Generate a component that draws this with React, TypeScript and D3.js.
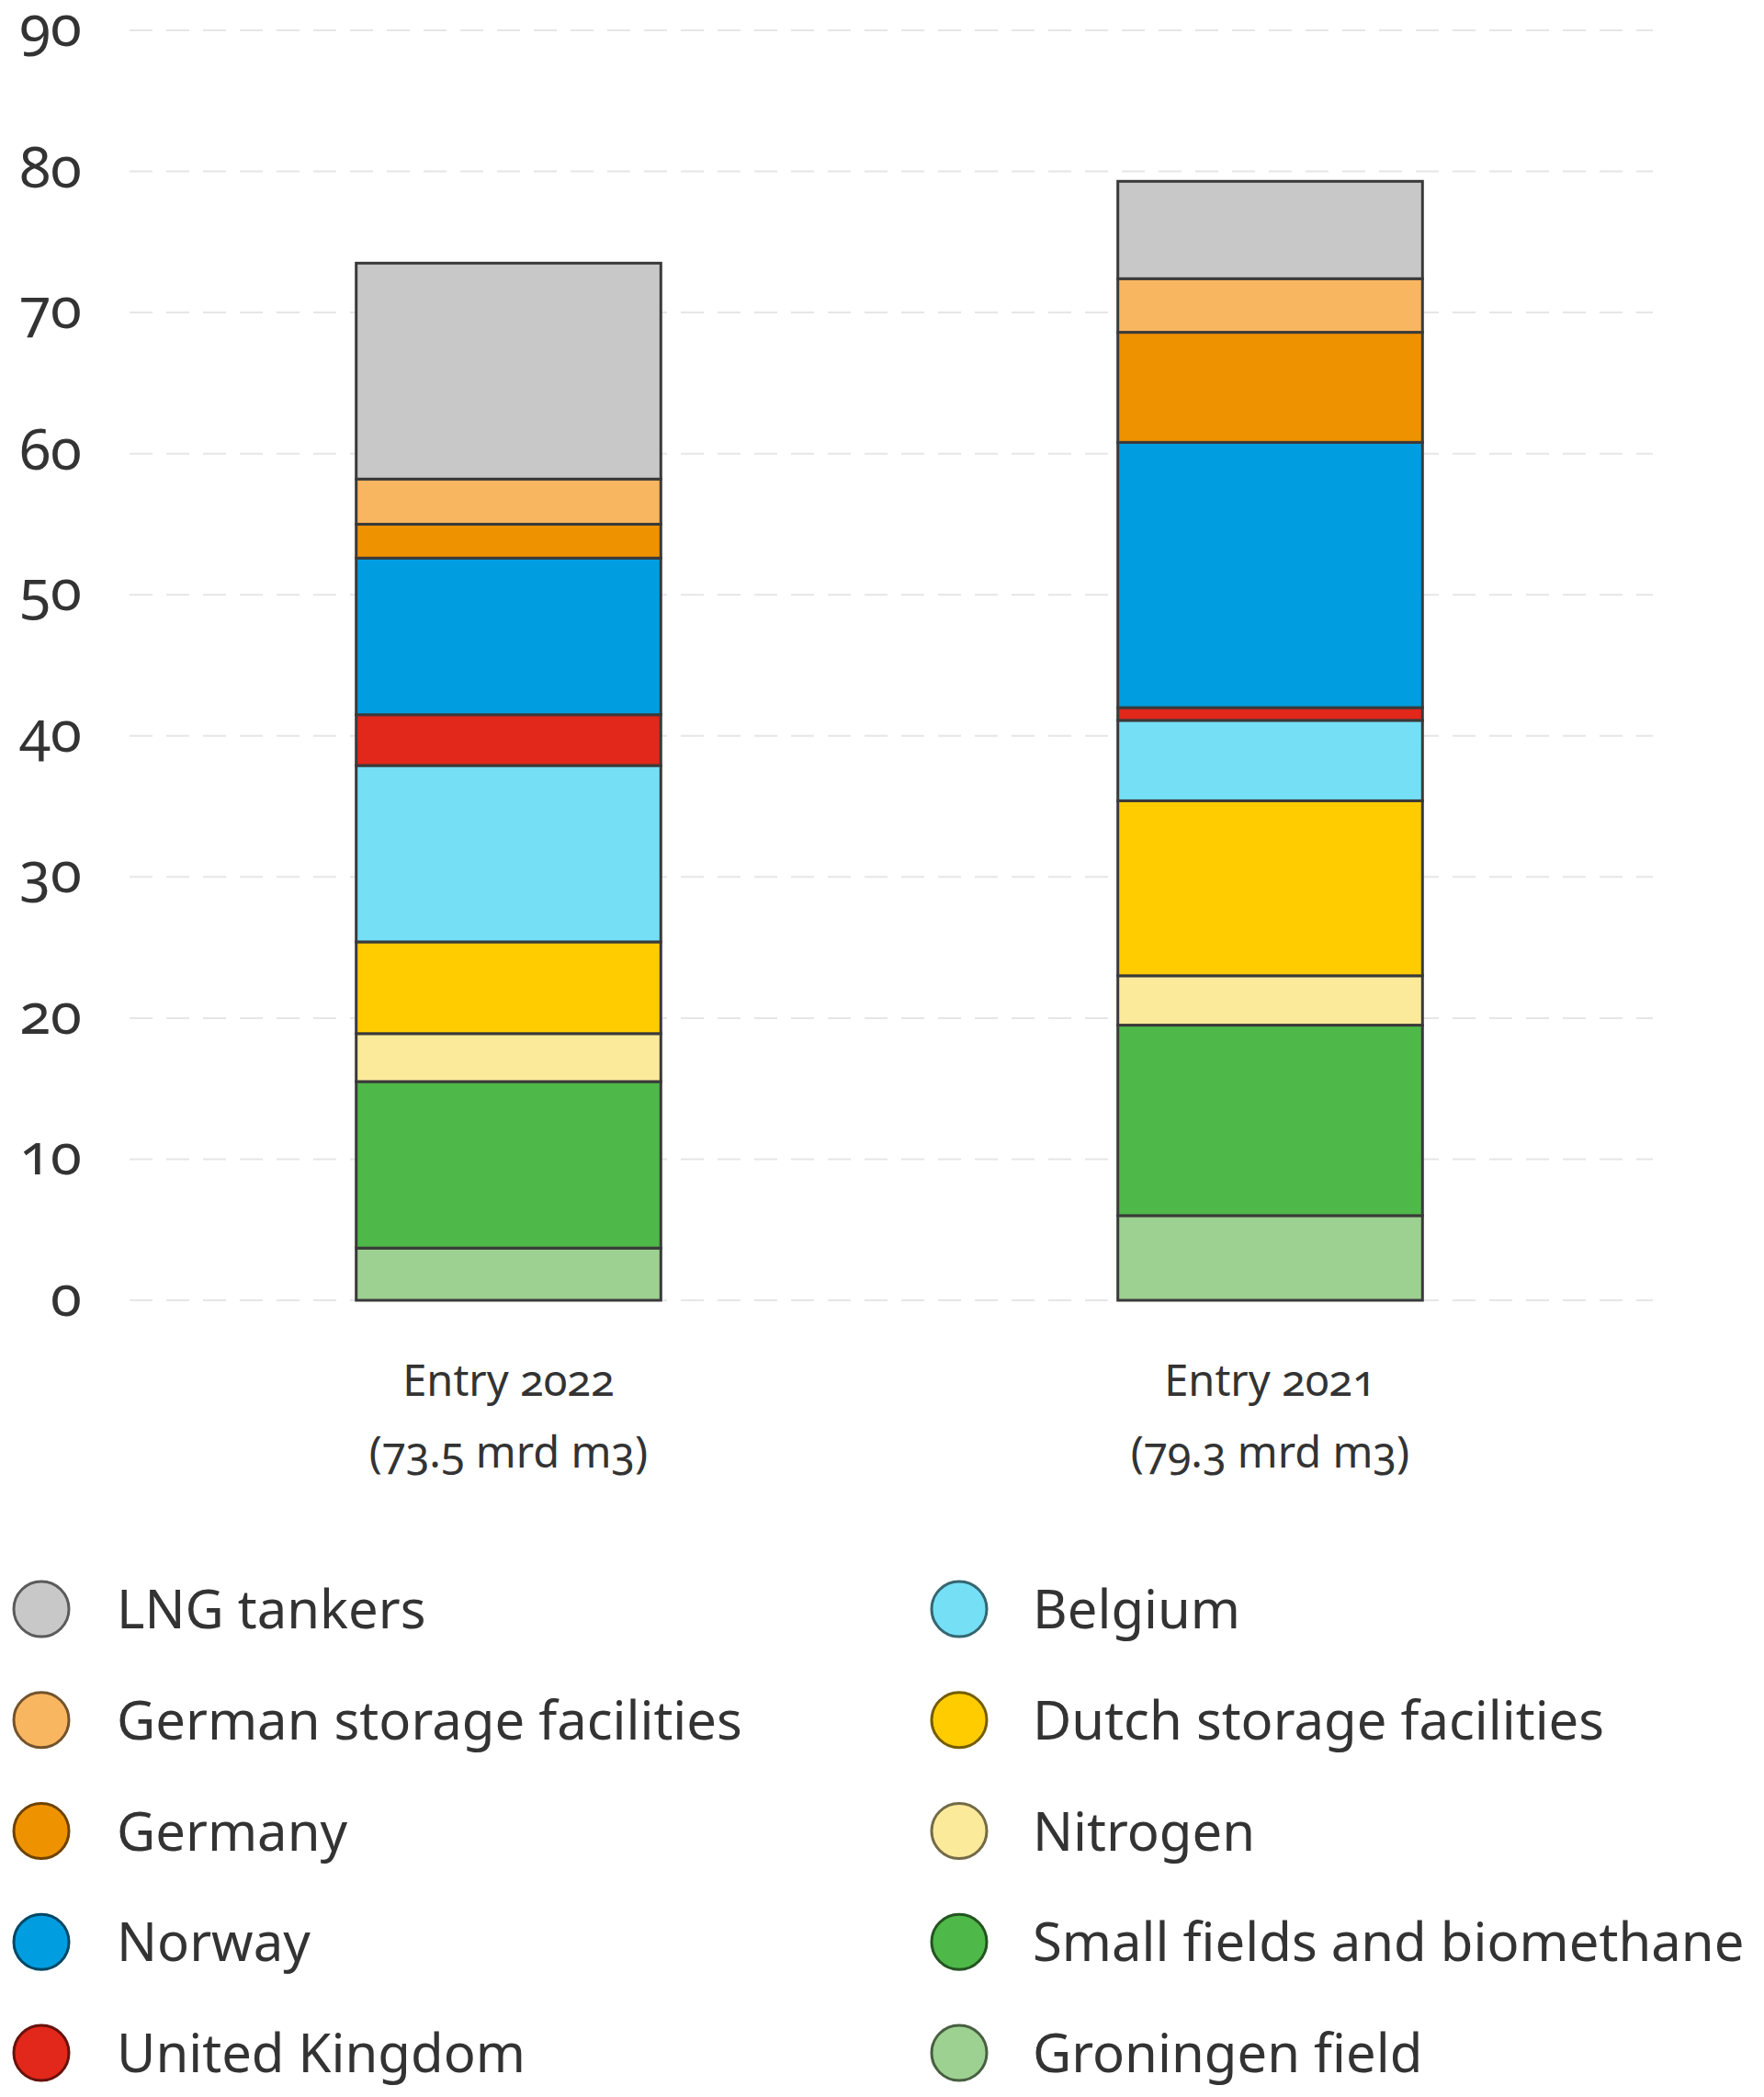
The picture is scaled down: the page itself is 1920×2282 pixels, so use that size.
import React from "react";
import * as d3 from "d3";

const categories = ["Entry 2022", "Entry 2021"];
const totalLabels = ["(73.5 mrd m3)", "(79.3 mrd m3)"];

// stacked bottom to top
const seriesNames = [
  "Groningen field",
  "Small fields and biomethane",
  "Nitrogen",
  "Dutch storage facilities",
  "Belgium",
  "United Kingdom",
  "Norway",
  "Germany",
  "German storage facilities",
  "LNG tankers",
];
const seriesColors = [
  "#9dd191",
  "#4eb849",
  "#fcea9b",
  "#ffcc00",
  "#75dff5",
  "#e2271b",
  "#009ee0",
  "#ef9200",
  "#f9b660",
  "#c8c8c8",
];
const values2022 = [3.7, 11.8, 3.4, 6.5, 12.5, 3.6, 11.1, 2.4, 3.2, 15.3];
const values2021 = [6.0, 13.5, 3.5, 12.4, 5.7, 0.9, 18.8, 7.8, 3.8, 6.9];

const yTicks = [0, 10, 20, 30, 40, 50, 60, 70, 80, 90];

const legendLeft = ["LNG tankers", "German storage facilities", "Germany", "Norway", "United Kingdom"];
const legendRight = ["Belgium", "Dutch storage facilities", "Nitrogen", "Small fields and biomethane", "Groningen field"];

const W = 1920;
const H = 2282;
const FONT = "'Noto Sans', 'Open Sans', sans-serif";
const TEXT = "#333333";

export default function App() {
  const table = categories.map((c, i) => {
    const row: Record<string, any> = { category: c };
    const vals = i === 0 ? values2022 : values2021;
    seriesNames.forEach((s, j) => (row[s] = vals[j]));
    return row;
  });

  const stack = d3.stack<any>().keys(seriesNames);
  const stacked = stack(table);

  const x = d3
    .scaleBand<string>()
    .domain(categories)
    .range([139, 1797])
    .paddingInner(0.6)
    .paddingOuter(0.3);
  const y = d3.scaleLinear().domain([0, 90]).range([1415, 33]);

  const colorOf = d3.scaleOrdinal<string, string>().domain(seriesNames).range(seriesColors);

  const legendRows = [0, 1, 2, 3, 4];
  const legendY = d3.scaleLinear().domain([0, 4]).range([1751, 2234]);

  return (
    <svg
      width={W}
      height={H}
      style={{ position: "absolute", left: 0, top: 0, background: "#fff" }}
      fontFamily={FONT}
    >
      <rect x={0} y={0} width={W} height={H} fill="#ffffff" />
      {/* gridlines */}
      {yTicks.map((t) => (
        <line
          key={"g" + t}
          x1={141}
          x2={1799}
          y1={y(t)}
          y2={y(t)}
          stroke="#e6e6e6"
          strokeWidth={2}
          strokeDasharray="25 15"
        />
      ))}
      {/* y tick labels */}
      {yTicks.map((t) => (
        <text
          key={"t" + t}
          x={89}
          y={y(t) + 17}
          textAnchor="end"
          fontSize={62}
          fill={TEXT}
          style={{ fontVariantNumeric: "oldstyle-nums" }}
        >
          {t}
        </text>
      ))}
      {/* bars */}
      {stacked.map((layer) =>
        layer.map((d, i) => (
          <rect
            key={layer.key + i}
            x={x(categories[i])!}
            width={x.bandwidth()}
            y={y(d[1])}
            height={y(d[0]) - y(d[1])}
            fill={colorOf(layer.key)}
            stroke="#3a3a3a"
            strokeWidth={3}
          />
        ))
      )}
      {/* category labels */}
      {categories.map((c, i) => (
        <g key={"c" + c}>
          <text
            x={x(c)! + x.bandwidth() / 2}
            y={1519}
            textAnchor="middle"
            fontSize={47}
            fill={TEXT}
            style={{ fontVariantNumeric: "oldstyle-nums" }}
          >
            {c}
          </text>
          <text
            x={x(c)! + x.bandwidth() / 2}
            y={1597}
            textAnchor="middle"
            fontSize={47}
            fill={TEXT}
            style={{ fontVariantNumeric: "oldstyle-nums" }}
          >
            {totalLabels[i]}
          </text>
        </g>
      ))}
      {/* legend */}
      {[legendLeft, legendRight].map((col, ci) =>
        legendRows.map((r) => {
          const name = col[r];
          const fill = colorOf(name);
          const cx = ci === 0 ? 45 : 1044;
          const tx = ci === 0 ? 127 : 1124;
          const cy = legendY(r);
          return (
            <g key={"l" + name}>
              <circle
                cx={cx}
                cy={cy}
                r={30}
                fill={fill}
                stroke={d3.color(fill)!.darker(2.2).formatHex()}
                strokeWidth={3}
              />
              <text x={tx} y={cy + 21} fontSize={58} fill={TEXT}>
                {name}
              </text>
            </g>
          );
        })
      )}
    </svg>
  );
}
